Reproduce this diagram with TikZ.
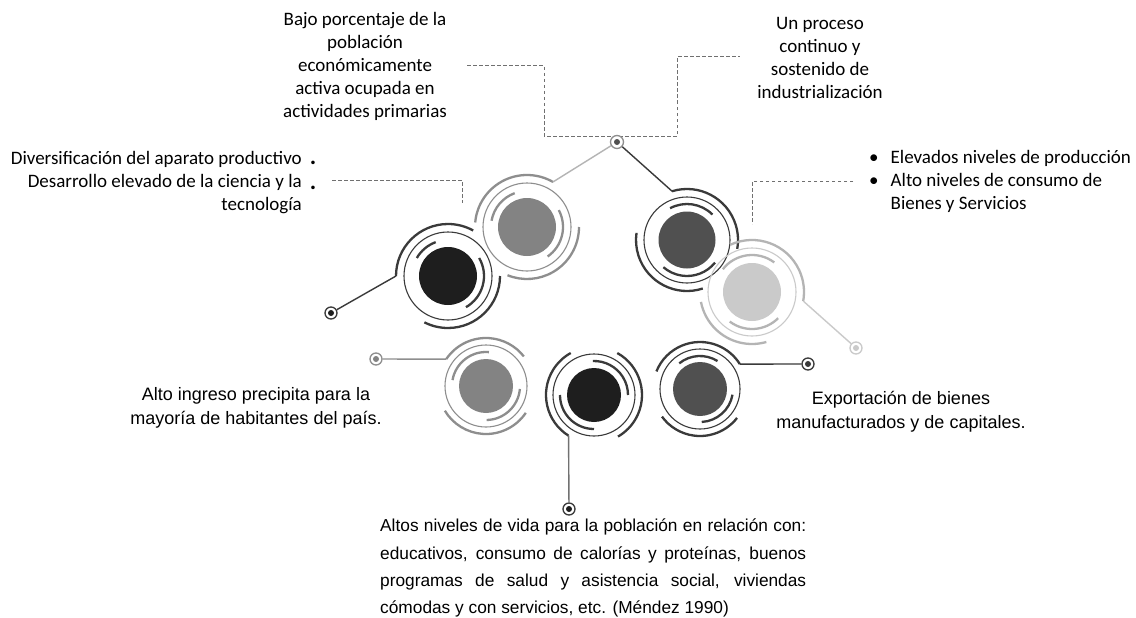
\documentclass[tikz,border=0pt]{standalone}
\usepackage{fontspec}
\setmainfont{Carlito}
\newfontfamily\arialf{Liberation Sans}
\usetikzlibrary{calc}
\newcommand\ringarc[5]{\draw[#5] ($(#1)+(#3:#2)$) arc[start angle=#3, end angle=#4, radius=#2];}
\definecolor{cblack}{HTML}{1E1E1E}
\definecolor{cdark}{HTML}{505050}
\definecolor{cmid}{HTML}{838383}
\definecolor{clight}{HTML}{CACACA}
\definecolor{ldark}{HTML}{3A3A3A}
\definecolor{lmid}{HTML}{8E8E8E}
\definecolor{llight}{HTML}{B4B4B4}
\definecolor{dashc}{HTML}{707070}
\begin{document}
\begin{tikzpicture}[x=1pt,y=-1pt,
  disk/.style={circle, inner sep=0pt, minimum size=#1},
  outerarc/.style={line width=2.3pt},
  innerarc/.style={line width=2.3pt},
  ringline/.style={line width=1.1pt},
  conn/.style={line width=1.4pt},
  dashline/.style={draw=dashc, line width=1pt, dash pattern=on 3.5pt off 2.5pt},
  dotnode/.style 2 args={circle, draw=#1, line width=1.3pt, fill=white, minimum size=12pt, inner sep=0pt,
     path picture={\fill[#2] (path picture bounding box.center) circle[radius=3pt];}},
  toptext/.style={font=\fontsize{19}{23}\selectfont, inner sep=0pt},
  armtext/.style={font=\arialf\fontsize{18}{24}\selectfont, align=center, inner sep=0pt},
  bottext/.style={font=\arialf\fontsize{17.3}{27.2}\selectfont, align=left, inner sep=0pt}
]
\fill[white] (0,0) rectangle (1136,618);
\useasboundingbox (0,0) rectangle (1136,618);

% ---------- dashed leader lines ----------
\coordinate (d1a) at (467,66);
\coordinate (d1b) at (544,66);
\coordinate (d1c) at (544,136);
\coordinate (d1d) at (677,136);
\coordinate (d1e) at (677,57);
\coordinate (d1f) at (740,57);
\draw[dashline] (d1a) -- (d1b) -- (d1c) -- (d1d) -- (d1e) -- (d1f);
\coordinate (d2a) at (332,180);
\coordinate (d2b) at (462,180);
\coordinate (d2c) at (462,203);
\draw[dashline] (d2a) -- (d2b) -- (d2c);
\coordinate (d3a) at (853,181);
\coordinate (d3b) at (752,181);
\coordinate (d3c) at (752,224);
\draw[dashline] (d3a) -- (d3b) -- (d3c);

% ---------- circles: top row ----------
% A black
\node[disk=58pt, fill=cblack] (A) at (448,276) {};
\draw[ringline, ldark] (A.center) circle[radius=44];
\ringarc{A.center}{52}{180}{299}{outerarc, ldark}
\ringarc{A.center}{52}{0}{117}{outerarc, ldark}
\ringarc{A.center}{36}{210}{250}{innerarc, ldark}
\ringarc{A.center}{36}{-30}{60}{innerarc, ldark}
% B mid gray
\node[disk=58pt, fill=cmid] (B) at (527,227) {};
\draw[ringline, lmid] (B.center) circle[radius=44];
\ringarc{B.center}{52}{185}{300}{outerarc, lmid}
\ringarc{B.center}{52}{0}{112}{outerarc, lmid}
\ringarc{B.center}{36}{190}{250}{innerarc, lmid}
\ringarc{B.center}{36}{-28}{55}{innerarc, lmid}
% C dark gray
\node[disk=57pt, fill=cdark] (C) at (687,240) {};
\draw[ringline, ldark] (C.center) circle[radius=43];
\ringarc{C.center}{51}{253}{370}{outerarc, ldark}
\ringarc{C.center}{51}{72}{188}{outerarc, ldark}
\ringarc{C.center}{36}{242}{315}{innerarc, ldark}
\ringarc{C.center}{36}{39}{131}{innerarc, ldark}
% D light gray
\node[disk=58pt, fill=clight] (D) at (752,292) {};
\draw[ringline, llight!70] (D.center) circle[radius=44];
\ringarc{D.center}{52}{245}{370}{outerarc, llight}
\ringarc{D.center}{52}{74}{169}{outerarc, llight}
\ringarc{D.center}{37}{218}{307}{innerarc, llight}
\ringarc{D.center}{37}{45}{127}{innerarc, llight}

% ---------- circles: bottom row ----------
% E mid gray
\node[disk=54pt, fill=cmid] (E) at (486,386) {};
\draw[ringline, lmid] (E.center) circle[radius=41];
\ringarc{E.center}{48}{214}{322}{outerarc, lmid}
\ringarc{E.center}{48}{34}{149}{outerarc, lmid}
\ringarc{E.center}{34}{190}{275}{innerarc, lmid}
\ringarc{E.center}{34}{5}{89}{innerarc, lmid}
% F black
\node[disk=54pt, fill=cblack] (F) at (594,395) {};
\draw[ringline, ldark] (F.center) circle[radius=41];
\ringarc{F.center}{48}{122}{241}{outerarc, ldark}
\ringarc{F.center}{48}{-61}{60}{outerarc, ldark}
\ringarc{F.center}{34}{268}{360}{innerarc, ldark}
\ringarc{F.center}{34}{90}{180}{innerarc, ldark}
% G dark gray
\node[disk=54pt, fill=cdark] (G) at (700,389) {};
\draw[ringline, ldark] (G.center) circle[radius=40];
\ringarc{G.center}{47}{202}{328}{outerarc, ldark}
\ringarc{G.center}{47}{38}{144}{outerarc, ldark}
\ringarc{G.center}{33}{231}{302}{innerarc, ldark}
\ringarc{G.center}{33}{10}{87}{innerarc, ldark}

% ---------- end dots ----------
\node[dotnode={lmid}{cdark}, minimum size=13pt] (hub) at (617,142) {};
\node[dotnode={ldark}{cblack}] (dA) at (331,313) {};
\node[dotnode={clight}{clight}] (dD) at (856,348) {};
\node[dotnode={lmid}{cmid}] (dE) at (376,359) {};
\node[dotnode={ldark}{cblack}] (dF) at (569,509) {};
\node[dotnode={ldark}{ldark}] (dG) at (808,364) {};

% ---------- connectors ----------
\coordinate (Bt) at ($(B.center)+(300:52)$);
\coordinate (Ct) at ($(C.center)+(253:51)$);
\coordinate (Aw) at ($(A.center)+(180:52)$);
\coordinate (De) at ($(D.center)+(10:52)$);
\coordinate (Ew) at ($(E.center)+(214:48)$);
\coordinate (Fs) at ($(F.center)+(122:48)$);
\coordinate (Ge) at ($(G.center)+(328:47)$);
\draw[conn, llight] (hub) -- (Bt);
\draw[conn, ldark] (hub) -- (Ct);
\draw[conn, ldark] (Aw) -- (dA);
\draw[conn, clight] (De) -- (dD);
\draw[conn, lmid] (Ew) -- (dE);
\draw[conn, lmid!80!black] (Fs) -- (dF);
\draw[conn, ldark] (Ge) -- (dG);

% ---------- texts ----------
\node[toptext, align=center] (t1) at (365,66)
  {Bajo porcentaje de la\\población\\económicamente\\activa ocupada en\\actividades primarias};
\node[toptext, align=center] (t2) at (820,58)
  {Un proceso\\continuo y\\sostenido de\\industrialización};
\node[toptext, align=right, anchor=east] (t3) at (302,183)
  {Diversificación del aparato productivo\\Desarrollo elevado de la ciencia y la\\tecnología};
\node[toptext, font=\bfseries\fontsize{24}{23}\selectfont, anchor=base] (p1) at (313,164) {.};
\node[toptext, font=\bfseries\fontsize{24}{23}\selectfont, anchor=base] (p2) at (313,189) {.};
\node[toptext, anchor=west] (t4) at (869,182)
  {\begin{tabular}{@{}l@{\hspace{12pt}}l@{}}
   • & Elevados niveles de producción\\[0pt]
   • & Alto niveles de consumo de\\
     & Bienes y Servicios
   \end{tabular}};
\node[armtext] (t5) at (256,408)
  {Alto ingreso precipita para la\\mayoría de habitantes del país.};
\node[armtext] (t6) at (901,412)
  {Exportación de bienes\\manufacturados y de capitales.};
\node[bottext, anchor=north west] (t7) at (380,519)
  {\makebox[426pt][s]{Altos niveles de vida para la población en relación con:}\\
   \makebox[426pt][s]{educativos, consumo de calorías y proteínas, buenos}\\
   \makebox[426pt][s]{programas de salud y asistencia social, viviendas}\\
   cómodas y con servicios, etc. (Méndez 1990)};
\end{tikzpicture}
\end{document}
